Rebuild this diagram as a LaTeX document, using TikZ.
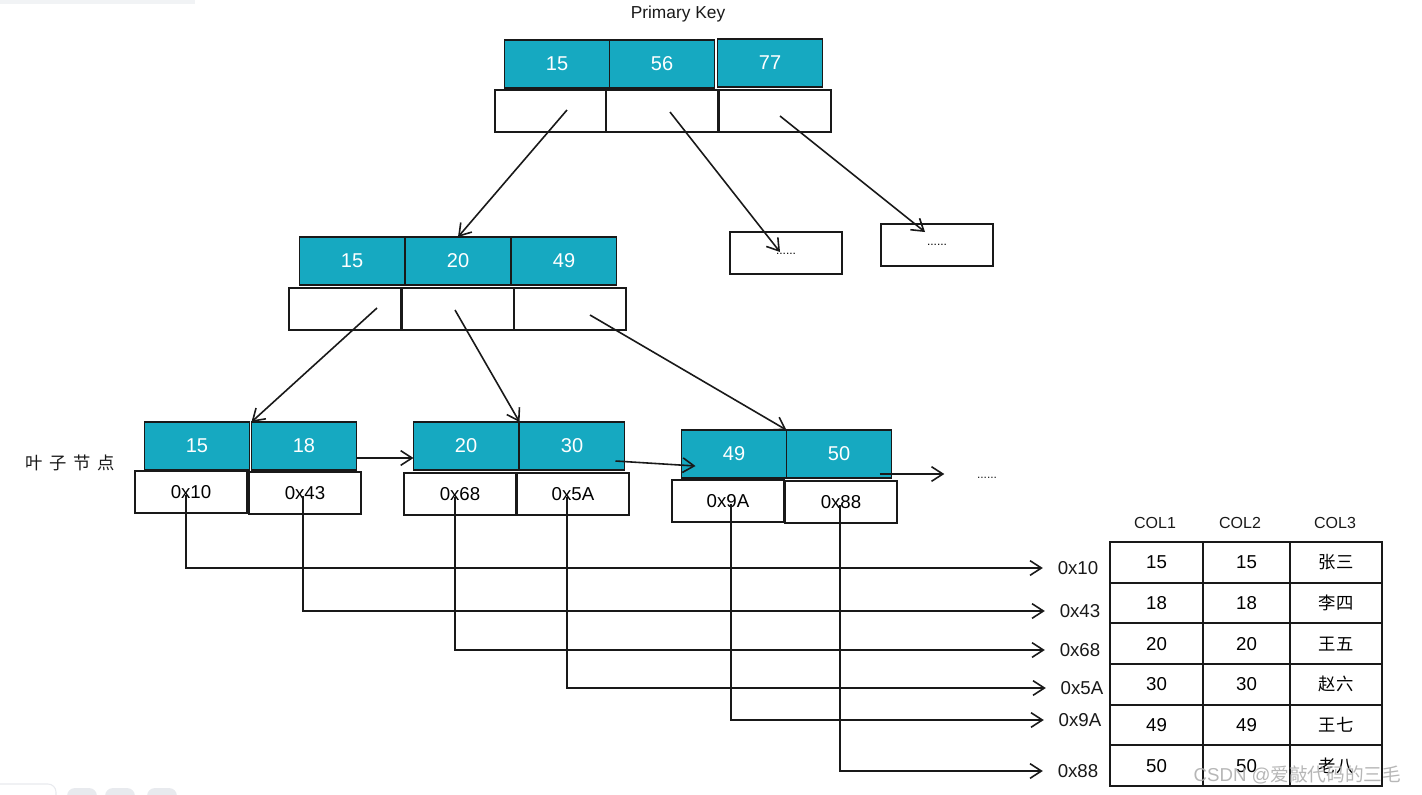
\documentclass[tikz,border=0pt]{standalone}
\usepackage{fontspec}
\setmainfont{Liberation Sans}
\newfontfamily\cjk{Noto Sans CJK SC}
\usetikzlibrary{arrows.meta,calc}
\definecolor{keycyan}{RGB}{22,169,193}
\definecolor{inkc}{RGB}{25,25,25}
\definecolor{uigray}{RGB}{232,234,238}
\definecolor{wmgray}{RGB}{175,175,175}
\begin{document}
\begin{tikzpicture}[x=0.75pt,y=-0.75pt,
  box/.style={draw=inkc, line width=1.4pt, inner sep=0pt, outer sep=0pt},
  keybox/.style={box, fill=keycyan, text=white, minimum width=78.75pt, minimum height=36pt, font=\fontsize{15}{18}\selectfont},
  ptrbox/.style={box, fill=white, minimum width=84pt, minimum height=31.5pt, font=\fontsize{14}{17}\selectfont},
  dotbox/.style={box, fill=white, minimum width=83.5pt, minimum height=31.5pt, font=\fontsize{9}{10}\selectfont},
  cell/.style={box, fill=white, minimum height=30.5pt, font=\fontsize{14}{17}\selectfont},
  colhead/.style={font=\fontsize{12}{14}\selectfont, text=inkc},
  rowlab/.style={font=\fontsize{14}{17}\selectfont, text=inkc, inner sep=1pt},
  conn/.style={draw=inkc, line width=1.2pt, -{Straight Barb[length=8.5pt,width=11pt,line width=1.2pt]}},
  rowconn/.style={conn, rounded corners=0pt, shorten >=10pt},
]
\useasboundingbox (0,0) rectangle (1422,794);

% faint screenshot UI remnants
\fill[uigray!60] (0,0) rectangle (195,4);
\draw[uigray, line width=0.8pt, fill=white, rounded corners=6pt] (-10,784) rectangle (56,805);
\fill[uigray, rounded corners=6pt] (67,788) rectangle (97,805);
\fill[uigray, rounded corners=6pt] (105,788) rectangle (135,805);
\fill[uigray, rounded corners=6pt] (147,788) rectangle (177,805);

% ---------- root ----------
\node[font=\fontsize{13}{15}\selectfont, text=inkc] (pk) at (678,14) {Primary Key};
\node[keybox] (r1k) at (557,64) {15};
\node[keybox] (r2k) at (662,64) {56};
\node[keybox] (r3k) at (770,63) {77};
\node[ptrbox] (r1w) at (551,111) {};
\node[ptrbox] (r2w) at (662,111) {};
\node[ptrbox] (r3w) at (775,111) {};

\node[dotbox] (d1) at (786,253) {\raisebox{-2pt}{......}};
\node[dotbox] (d2) at (937,245) {......};

% ---------- middle ----------
\node[keybox] (m1k) at (352,261) {15};
\node[keybox] (m2k) at (458,261) {20};
\node[keybox] (m3k) at (564,261) {49};
\node[ptrbox] (m1w) at (345,309) {};
\node[ptrbox] (m2w) at (458,309) {};
\node[ptrbox] (m3w) at (570,309) {};

% ---------- leaves ----------
\node[font=\cjk\fontsize{13}{15}\selectfont, text=inkc] (leaflab) at (70,463) {叶\hspace{5pt}子\hspace{5pt}节\hspace{5pt}点};
\node[keybox] (l1k1) at (197,446) {15};
\node[keybox] (l1k2) at (304,446) {18};
\node[ptrbox] (l1a) at (191,492) {0x10};
\node[ptrbox] (l1b) at (305,493) {0x43};

\node[keybox] (l2k1) at (466,446) {20};
\node[keybox] (l2k2) at (572,446) {30};
\node[ptrbox] (l2a) at (460,494) {0x68};
\node[ptrbox] (l2b) at (573,494) {0x5A};

\node[keybox] (l3k1) at (734,454) {49};
\node[keybox] (l3k2) at (839,454) {50};
\node[ptrbox] (l3a) at (728,501) {0x9A};
\node[ptrbox] (l3b) at (841,502) {0x88};

\node[font=\fontsize{9}{10}\selectfont, text=inkc] (ldots) at (987,478) {......};

% ---------- table ----------
\node[colhead] (h1) at (1155,523) {COL1};
\node[colhead] (h2) at (1240,523) {COL2};
\node[colhead] (h3) at (1335,523) {COL3};

\foreach \r/\y/\v/\nm in {1/562.3/15/张三, 2/603/18/李四, 3/643.7/20/王五, 4/684.3/30/赵六, 5/725/49/王七, 6/765.7/50/老八}{
  \node[cell, minimum width=69.75pt] (c\r a) at (1156.5,\y) {\v};
  \node[cell, minimum width=65.25pt] (c\r b) at (1246.5,\y) {\v};
  \node[cell, minimum width=69pt, font=\cjk\fontsize{13}{15}\selectfont] (c\r c) at (1336,\y) {\nm};
}

\node[rowlab] (t1) at (1078,568) {0x10};
\node[rowlab] (t2) at (1080,611) {0x43};
\node[rowlab] (t3) at (1080,650) {0x68};
\node[rowlab] (t4) at (1082,688) {0x5A};
\node[rowlab] (t5) at (1080,720) {0x9A};
\node[rowlab] (t6) at (1078,771) {0x88};

% ---------- tree connectors ----------
\draw[conn] ($(r1w.center)+(16,-1)$) -- (m2k.north);
\draw[conn] ($(r2w.center)+(8,1)$) -- ($(d1.center)+(-6,-1)$);
\draw[conn] ($(r3w.center)+(5,5)$) -- ($(d2.center)+(-12,-13)$);

\draw[conn] ($(m1w.center)+(32,-1)$) -- (l1k2.north west);
\draw[conn] ($(m2w.center)+(-3,1)$) -- (l2k2.north west);
\draw[conn] ($(m3w.center)+(20,6)$) -- (l3k2.north west);

% leaf chain
\draw[conn] ($(l1k2.east)+(0,12)$) -- ($(l2k1.west)+(0,12)$);
\draw[conn] ($(l2k2.east)+(-9,15)$) -- ($(l3k1.west)+(14,12)$);
\draw[conn] ($(l3k2.east)+(-12,20)$) -- ($(ldots.west)+(-28,-4)$);

% pointers to rows
\draw[rowconn] ($(l1a.center)+(-5,3)$) |- (t1.west);
\draw[rowconn] ($(l1b.center)+(-2,3)$) |- (t2.west);
\draw[rowconn] ($(l2a.center)+(-5,3)$) |- (t3.west);
\draw[rowconn] ($(l2b.center)+(-6,3)$) |- (t4.west);
\draw[rowconn] ($(l3a.center)+(3,3)$) |- (t5.west);
\draw[rowconn] ($(l3b.center)+(-1,3)$) |- (t6.west);

% watermark
\node[text=wmgray, opacity=0.9, font=\fontsize{14}{16}\selectfont, anchor=east] (wm) at (1406,775) {CSDN @{\cjk 爱敲代码的三毛}};
\end{tikzpicture}
\end{document}
